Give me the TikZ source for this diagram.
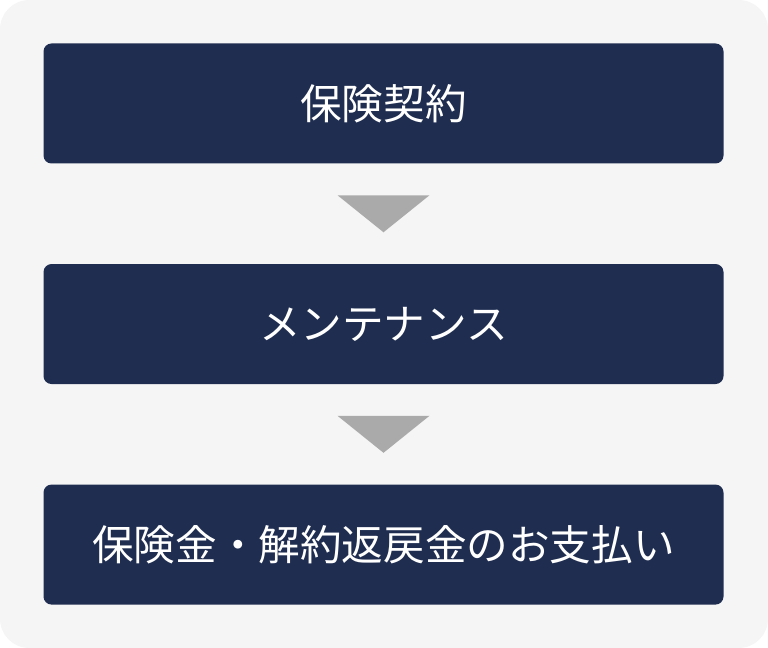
\documentclass[tikz,border=0pt]{standalone}
\usepackage{fontspec}
\setmainfont{Noto Sans CJK JP}
\usepackage{tikz}
\usetikzlibrary{calc}
\usetikzlibrary{positioning}
\definecolor{navy}{HTML}{1F2D50}
\definecolor{panel}{HTML}{F5F5F6}
\definecolor{arrowgray}{HTML}{AAAAAA}
\tikzstyle{block} = [fill=navy, rounded corners=6pt, text=white,
    minimum height=90pt, minimum width=510pt, font=\fontsize{31.2}{36}\selectfont]
\tikzstyle{step arrow} = [fill=arrowgray]

\begin{document}
\begin{tikzpicture}[x=0.75pt, y=-0.75pt, node distance=75pt]
    % background panel
    \fill[white] (0,0) rectangle (768,648);
    \fill[panel, rounded corners=22pt] (0,0) rectangle (768,648);
    \useasboundingbox (0,0) rectangle (768,648);

    % We start by placing the blocks
    \node [block] (contract) at (383.5,103.5) {保険契約};
    \node [block, below=of contract] (maintenance) {メンテナンス};
    \node [block, below=of maintenance] (payment) {保険金・解約返戻金のお支払い};

    % triangles between the blocks
    \coordinate (arrowA) at ($(contract.south)!0.5!(maintenance.north)$);
    \coordinate (arrowB) at ($(maintenance.south)!0.5!(payment.north)$);
    \fill [step arrow] ($(arrowA)+(-46,-18.5)$) -- ($(arrowA)+(46,-18.5)$) -- ($(arrowA)+(0,18.5)$) -- cycle;
    \fill [step arrow] ($(arrowB)+(-46,-18.5)$) -- ($(arrowB)+(46,-18.5)$) -- ($(arrowB)+(0,18.5)$) -- cycle;
\end{tikzpicture}
\end{document}
